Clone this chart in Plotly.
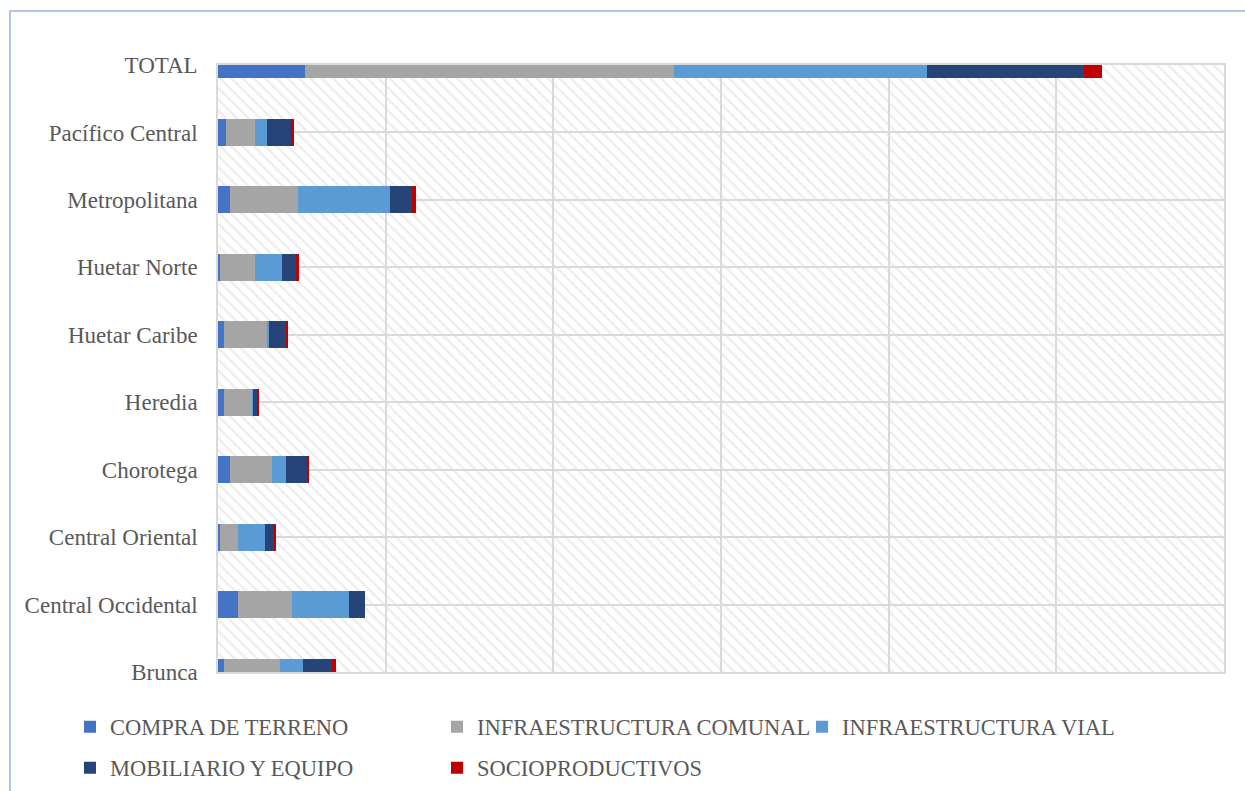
import plotly.graph_objects as go

categories = ["Brunca", "Central Occidental", "Central Oriental", "Chorotega", "Heredia",
              "Huetar Caribe", "Huetar Norte", "Metropolitana", "Pacífico Central", "TOTAL"]

compra_terreno = [38, 117, 12, 72, 38, 38, 12, 72, 48, 518]
infra_comunal = [332, 322, 105, 252, 167, 253, 209, 403, 173, 2199]
infra_vial = [139, 343, 161, 82, 4, 12, 161, 548, 70, 1510]
mobiliario = [169, 92, 55, 127, 22, 101, 81, 135, 147, 936]
socioproductivos = [24, 0, 14, 10, 14, 12, 20, 24, 14, 107]

series_names = ["COMPRA DE TERRENO", "INFRAESTRUCTURA COMUNAL", "INFRAESTRUCTURA VIAL",
                "MOBILIARIO Y EQUIPO", "SOCIOPRODUCTIVOS"]
series_values = [compra_terreno, infra_comunal, infra_vial, mobiliario, socioproductivos]
colors = ["#4472C4", "#A5A5A5", "#5B9BD5", "#264478", "#C00000"]
legend_ids = ["legend", "legend2", "legend3", "legend4", "legend5"]

x_max = 6000
y_pos = list(range(len(categories)))

W, H = 1245, 791
L, R, T, B = 218, 21, 65, 119
pw, ph = W - L - R, H - T - B


def px_x(px):
    return (px - L) / pw


def px_y(py):
    return (H - B - py) / ph


fig = go.Figure()

# hatched plot-area background
fig.add_trace(go.Bar(
    y=[(len(categories) - 1) / 2], x=[x_max], base=[0], width=[len(categories) + 1],
    orientation="h", showlegend=False, hoverinfo="skip",
    marker=dict(color="rgba(0,0,0,0)", line=dict(width=0),
                pattern=dict(shape="\\", size=8, solidity=0.3,
                             fgcolor="#dcdcdc", bgcolor="rgba(0,0,0,0)")),
))

for name, vals, col, lg in zip(series_names, series_values, colors, legend_ids):
    fig.add_trace(go.Bar(
        y=y_pos, x=vals, name=name, orientation="h", width=0.4,
        marker=dict(color=col, line=dict(width=0)), legend=lg,
    ))

legend_font = dict(family="Liberation Serif", size=22.5, color="#595959")
leg_pos = [(110, 727), (477, 727), (842, 727), (110, 768), (477, 768)]
legend_layouts = {}
for lg, (tx, ty) in zip(legend_ids, leg_pos):
    legend_layouts[lg] = dict(
        x=px_x(tx - 40), y=px_y(ty), xanchor="left", yanchor="middle",
        orientation="h", font=legend_font, bgcolor="rgba(0,0,0,0)", borderwidth=0,
    )

fig.update_layout(
    width=W, height=H,
    margin=dict(l=L, r=R, t=T, b=B, autoexpand=False),
    paper_bgcolor="white", plot_bgcolor="white",
    barmode="stack", bargap=0,
    showlegend=True,
    xaxis=dict(range=[0, x_max], dtick=1000, tick0=0, showticklabels=False,
               showgrid=True, gridcolor="#d9d9d9", gridwidth=1.5,
               showline=True, linecolor="#d9d9d9", linewidth=1.5, mirror=True,
               zeroline=False, fixedrange=True, automargin=False),
    yaxis=dict(range=[0, len(categories) - 1], tickmode="array", tickvals=y_pos,
               ticktext=categories, showgrid=True, gridcolor="#d9d9d9", gridwidth=1.5,
               showline=True, linecolor="#d9d9d9", linewidth=1.5, mirror=True,
               zeroline=False, ticks="outside", ticklen=14, tickcolor="rgba(0,0,0,0)",
               tickfont=dict(family="Liberation Serif", size=23, color="#595959"),
               fixedrange=True, automargin=False),
    shapes=[dict(type="rect", xref="paper", yref="paper",
                 x0=px_x(10), x1=px_x(1300), y0=px_y(850), y1=px_y(11),
                 line=dict(color="#9bb3e0", width=1.5), fillcolor="rgba(0,0,0,0)",
                 layer="below")],
    **legend_layouts,
)

fig.write_html("out.html")
